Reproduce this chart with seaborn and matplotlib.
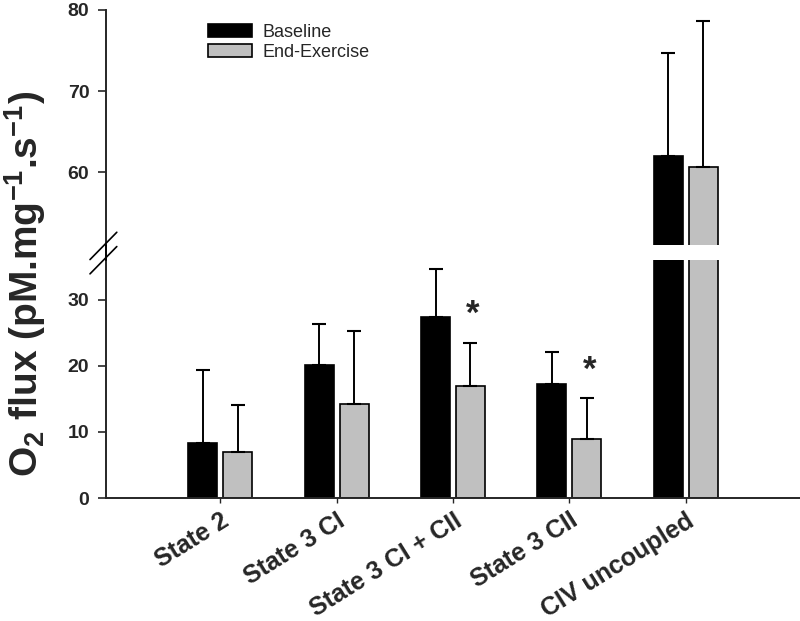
import numpy as np, pandas as pd
import matplotlib as mpl, matplotlib.pyplot as plt
import seaborn as sns
from matplotlib.lines import Line2D

sns.set_theme(style='ticks')
mpl.rcParams['font.family'] = ['Liberation Sans', 'DejaVu Sans']
mpl.rcParams['mathtext.fontset'] = 'custom'
mpl.rcParams['mathtext.rm'] = 'Liberation Sans'
mpl.rcParams['mathtext.bf'] = 'Liberation Sans:bold'
mpl.rcParams['mathtext.default'] = 'bf'

#%% data
categories = ['State 2', 'State 3 CI', 'State 3 CI + CII', 'State 3 CII', 'CIV uncoupled']
groups = ['Baseline', 'End-Exercise']
baseline = [8.4, 20.2, 27.4, 17.2, 62.0]
baseline_sd = [11.0, 6.1, 7.3, 4.9, 12.7]
end_exercise = [7.0, 14.2, 17.0, 8.9, 60.6]
end_exercise_sd = [7.1, 11.1, 6.5, 6.2, 18.0]
significant = [False, False, True, True, False]   # * above End-Exercise

df = pd.DataFrame({
    'Condition': np.repeat(groups, len(categories)),
    'State': categories * 2,
    'Flux': baseline + end_exercise,
})
sds = {'Baseline': baseline_sd, 'End-Exercise': end_exercise_sd}
palette = {'Baseline': 'black', 'End-Exercise': '#c0c0c0'}

#%% figure with broken y axis
fig = plt.figure(figsize=(8, 6.21), dpi=100)
ax_top = fig.add_axes([0.1325, 0.605, 0.8675, 0.379])
ax_bot = fig.add_axes([0.1325, 0.198, 0.8675, 0.383])

for ax in (ax_top, ax_bot):
    sns.barplot(data=df, x='State', y='Flux', hue='Condition', order=categories,
                hue_order=groups, palette=palette, edgecolor='black', linewidth=1.2,
                width=0.6, gap=0.17, errorbar=None, saturation=1, ax=ax, legend=(ax is ax_top))
    for cont, g in zip(ax.containers, groups):
        xs = [b.get_x() + b.get_width() / 2 for b in cont]
        ys = [b.get_height() for b in cont]
        ax.errorbar(xs, ys, yerr=[np.zeros(len(ys)), sds[g]], fmt='none', ecolor='black',
                    elinewidth=1.4, capsize=5, capthick=1.5, zorder=1)
    ax.set_xlim(-0.98, 4.98)
    ax.set_xlabel('')
    ax.set_ylabel('')
    for s in ('top', 'right'):
        ax.spines[s].set_visible(False)
    ax.spines['left'].set_linewidth(1.4)
    ax.tick_params(axis='y', direction='out', length=6, width=1.2, pad=6, labelsize=14)

# upper part
ax_top.set_ylim(51, 80)
ax_top.set_yticks([60, 70, 80])
ax_top.spines['bottom'].set_visible(False)
ax_top.tick_params(axis='x', bottom=False, labelbottom=False)
plt.setp(ax_top.get_yticklabels(), fontweight='bold')
handles, labels = ax_top.get_legend_handles_labels()
ax_top.legend(handles, labels, loc='upper left', bbox_to_anchor=(0.147, 0.94),
              frameon=False, fontsize=13, handlelength=2.45, handleheight=0.7,
              handletextpad=0.55, labelspacing=0.15, borderpad=0, borderaxespad=0)

# lower part
ax_bot.set_ylim(0, 36)
ax_bot.set_yticks([0, 10, 20, 30])
ax_bot.spines['bottom'].set_linewidth(1.4)
ax_bot.tick_params(axis='x', direction='out', length=3.5, width=1, pad=4)
ax_bot.set_xticks(range(len(categories)))
ax_bot.set_xticklabels(categories, rotation=32, ha='right', rotation_mode='anchor',
                       fontweight='bold', fontsize=18)
plt.setp(ax_bot.get_yticklabels(), fontweight='bold')

# significance stars
ee_bars = ax_bot.containers[1]
for bar, sig, h, sd in zip(ee_bars, significant, end_exercise, end_exercise_sd):
    if sig:
        ax_bot.text(bar.get_x() + bar.get_width() / 2 + 0.02, h + sd + 4.3, '*',
                    ha='center', va='center', fontsize=25, fontweight='bold')

# axis break marks
fig.add_artist(Line2D([0.1325, 0.1325], [0.581, 0.605], color='black', lw=1.4))
for yc in (0.604, 0.581):
    fig.add_artist(Line2D([0.1125, 0.146], [yc - 0.022, yc + 0.022], color='black', lw=1.2))

fig.text(0.032, 0.543, 'O$_2$ flux (pM.mg$^{-1}$.s$^{-1}$)', rotation=90,
         ha='center', va='center', fontsize=28, fontweight='bold')

fig.savefig('out.png', dpi=100, facecolor='white')
